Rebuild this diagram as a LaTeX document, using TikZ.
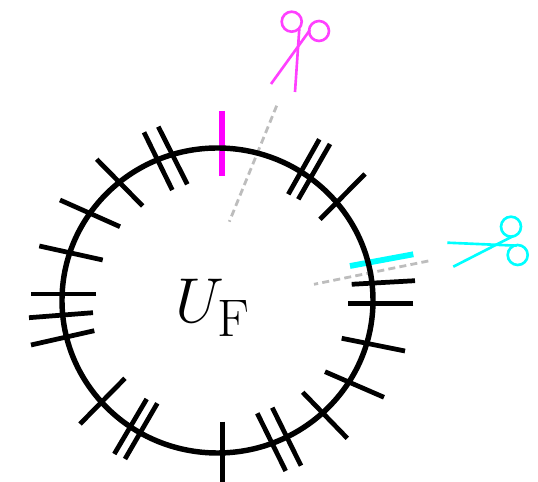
\documentclass[tikz,border=0pt]{standalone}
\usepackage{xcolor}
\definecolor{Cut}{HTML}{FF00FF}
\definecolor{CutLight}{HTML}{FF40FF}
\definecolor{Cross}{HTML}{00FFFF}
\definecolor{Guide}{HTML}{BDBDBD}
\tikzset{
  ring/.style={draw=black, line width=3.1pt},
  stub/.style={draw=black, line width=2.7pt},
  cutstub/.style={draw=#1, line width=3.3pt},
  guide/.style={draw=Guide, line width=1.6pt, dash pattern=on 4pt off 2.4pt},
  blade/.style={draw=#1, line width=1.5pt}
}
\begin{document}
\begin{tikzpicture}[x=0.02cm,y=-0.02cm]
\useasboundingbox (0,0) rectangle (538,482);

% Guide lines and cut stubs run under the ring.
\draw[guide] (276.7,105.7) -- (229.3,221.7);
\draw[guide] (428.3,261) -- (314,284.3);
\draw[cutstub=Cut] (221.7,111) -- (221.7,176);
\draw[cutstub=Cross] (350,266) -- (413.3,254.3);

% Ring and label.
\draw[ring] (217.5,300.5) ellipse [x radius=155.5, y radius=152.5];
\node[font=\Huge, scale=1.45] (ufield) at (213,308) {$U_{\mathrm{F}}$};

% Black stubs on the ring, clockwise from the top right.
\foreach \xa/\ya/\xb/\yb in {
  319.3/139.3/288.3/194.3, 330/144/298.3/199.3, 365/174/320/219.3,
  415/280.7/351.7/284.3, 413.3/303.3/348.3/303.3, 405/351/341.7/338.3,
  384/397.3/325/371.7, 347.3/438.3/302.7/392.3, 301/465.7/272.3/407.7,
  285.7/471/257.3/413.3, 222.3/421.7/222.3/482, 146.7/399/114.3/454,
  157.3/403.3/125/459, 125/378.3/80/424, 94.3/330.7/31/345,
  93/312.7/29/317.7, 96/294/31/294, 102.7/260/39.3/246,
  120/226.7/60/200, 142.7/206/96.7/159.3, 172.3/190/144/132.3,
  187.3/184.3/158.3/126.7}
  \draw[stub] (\xa,\ya) -- (\xb,\yb);

% Scissors above the ring.
\draw[blade=CutLight] (291.7,21.7) circle [radius=10];
\draw[blade=CutLight] (319,31) circle [radius=10];
\draw[blade=CutLight] (295,92) -- (299.3,29);
\draw[blade=CutLight] (271,84) -- (310,30);

% Scissors to the right of the ring.
\draw[blade=Cross] (511,226.7) circle [radius=10];
\draw[blade=Cross] (517.7,255) circle [radius=10];
\draw[blade=Cross] (447.3,242.7) -- (516.7,245.7);
\draw[blade=Cross] (453.3,266.7) -- (513.3,236);
\end{tikzpicture}
\end{document}
